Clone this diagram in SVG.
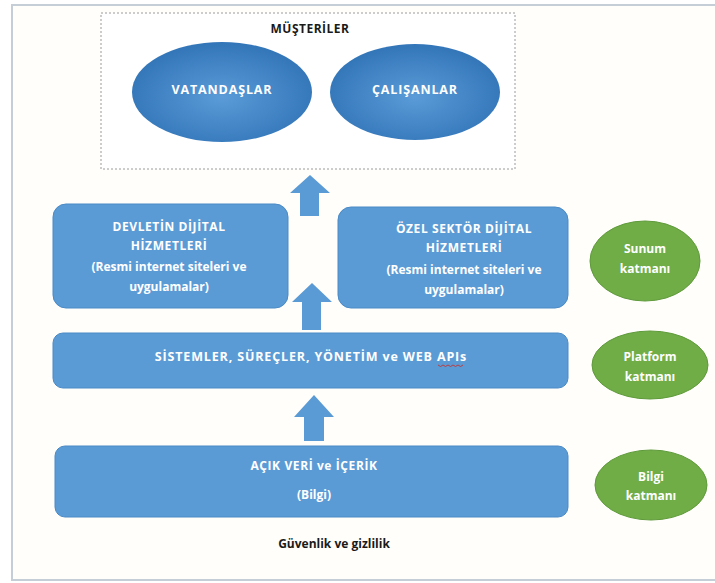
<svg xmlns="http://www.w3.org/2000/svg" width="715" height="583" viewBox="0 0 715 583">
<defs>
<radialGradient id="blueEll" cx="50%" cy="55%" r="60%">
<stop offset="0" stop-color="#5A9BD8"/>
<stop offset="1" stop-color="#2F72B5"/>
</radialGradient>
</defs>
<style>
.box{fill:#5B9BD5;stroke:#4A8AC6;stroke-width:1}
.ell{fill:url(#blueEll)}
.green{fill:#70AD47;stroke:#5E9A3A;stroke-width:1}
.wt{font-family:"Open Sans","Liberation Sans",sans-serif;font-weight:bold;font-size:12px;fill:#FFFFFF;text-anchor:middle}
.caps{letter-spacing:0.6px}
.big{font-size:12.5px;letter-spacing:0.85px}
.bt{font-family:"Open Sans","Liberation Sans",sans-serif;font-weight:bold;font-size:12px;fill:#1A1A1A;text-anchor:middle}
.arrow{fill:#5B9BD5}
</style>
<rect x="0" y="0" width="715" height="583" fill="#FFFFFF"/>
<rect x="12" y="5" width="720" height="575" fill="#FFFEFA" stroke="#C5CDD6" stroke-width="2"/>

<g id="musteriler">
<rect x="101" y="13" width="414" height="156" fill="#FFFFFF" stroke="#9A9A9A" stroke-width="1" stroke-dasharray="2,2"/>
<text class="bt" x="310" y="33" letter-spacing="0.5">MÜŞTERİLER</text>
</g>
<g id="vatandaslar">
<ellipse class="ell" cx="222" cy="92" rx="90" ry="50"/>
<text class="wt big" x="222" y="94">VATANDAŞLAR</text>
</g>
<g id="calisanlar">
<ellipse class="ell" cx="415" cy="92" rx="85" ry="48"/>
<text class="wt big" x="415" y="94">ÇALIŞANLAR</text>
</g>

<g id="connectors">
<polygon class="arrow" points="310,175 330,193 319,193 319,216 300,216 300,193 290,193"/>
<polygon class="arrow" points="312,283 332,302 321,302 321,330 302,330 302,302 292,302"/>
<polygon class="arrow" points="314,395 334,417 324,417 324,441 304,441 304,417 294,417"/>
</g>

<g id="devlet">
<rect class="box" x="53" y="204" width="235" height="104" rx="13"/>
<text class="wt caps" x="169" y="231">DEVLETİN DİJİTAL</text>
<text class="wt caps" x="169" y="250">HİZMETLERİ</text>
<text class="wt" x="169" y="271">(Resmi internet siteleri ve</text>
<text class="wt" x="169" y="291">uygulamalar)</text>
</g>
<g id="ozel">
<rect class="box" x="338" y="207" width="230" height="101" rx="13"/>
<text class="wt caps" x="464" y="233">ÖZEL SEKTÖR DİJİTAL</text>
<text class="wt caps" x="464" y="252">HİZMETLERİ</text>
<text class="wt" x="464" y="274">(Resmi internet siteleri ve</text>
<text class="wt" x="464" y="294">uygulamalar)</text>
</g>
<g id="sunum">
<ellipse class="green" cx="645" cy="261" rx="55" ry="40"/>
<text class="wt" x="645" y="253">Sunum</text>
<text class="wt" x="645" y="273">katmanı</text>
</g>

<g id="platform-box">
<rect class="box" x="53" y="333" width="515" height="55" rx="10"/>
<text class="wt big" x="311" y="361">SİSTEMLER, SÜREÇLER, YÖNETİM ve WEB APIs</text>
<path d="M438,365 l2.5,1.5 l2.5,-1.5 l2.5,1.5 l2.5,-1.5 l2.5,1.5 l2.5,-1.5 l2.5,1.5 l2.5,-1.5 l2.5,1.5 l2.5,-1.5" fill="none" stroke="#C8302C" stroke-width="0.9"/>
</g>
<g id="platform">
<ellipse class="green" cx="650" cy="365" rx="58" ry="34"/>
<text class="wt" x="650" y="361">Platform</text>
<text class="wt" x="650" y="381">katmanı</text>
</g>

<g id="acik-veri">
<rect class="box" x="55" y="446" width="513" height="71" rx="10"/>
<text class="wt caps" x="314" y="470">AÇIK VERİ ve İÇERİK</text>
<text class="wt" x="314" y="499">(Bilgi)</text>
</g>
<g id="bilgi">
<ellipse class="green" cx="651" cy="485" rx="56" ry="35"/>
<text class="wt" x="651" y="481">Bilgi</text>
<text class="wt" x="651" y="500">katmanı</text>
</g>

<text class="bt" x="334" y="548">Güvenlik ve gizlilik</text>
</svg>
